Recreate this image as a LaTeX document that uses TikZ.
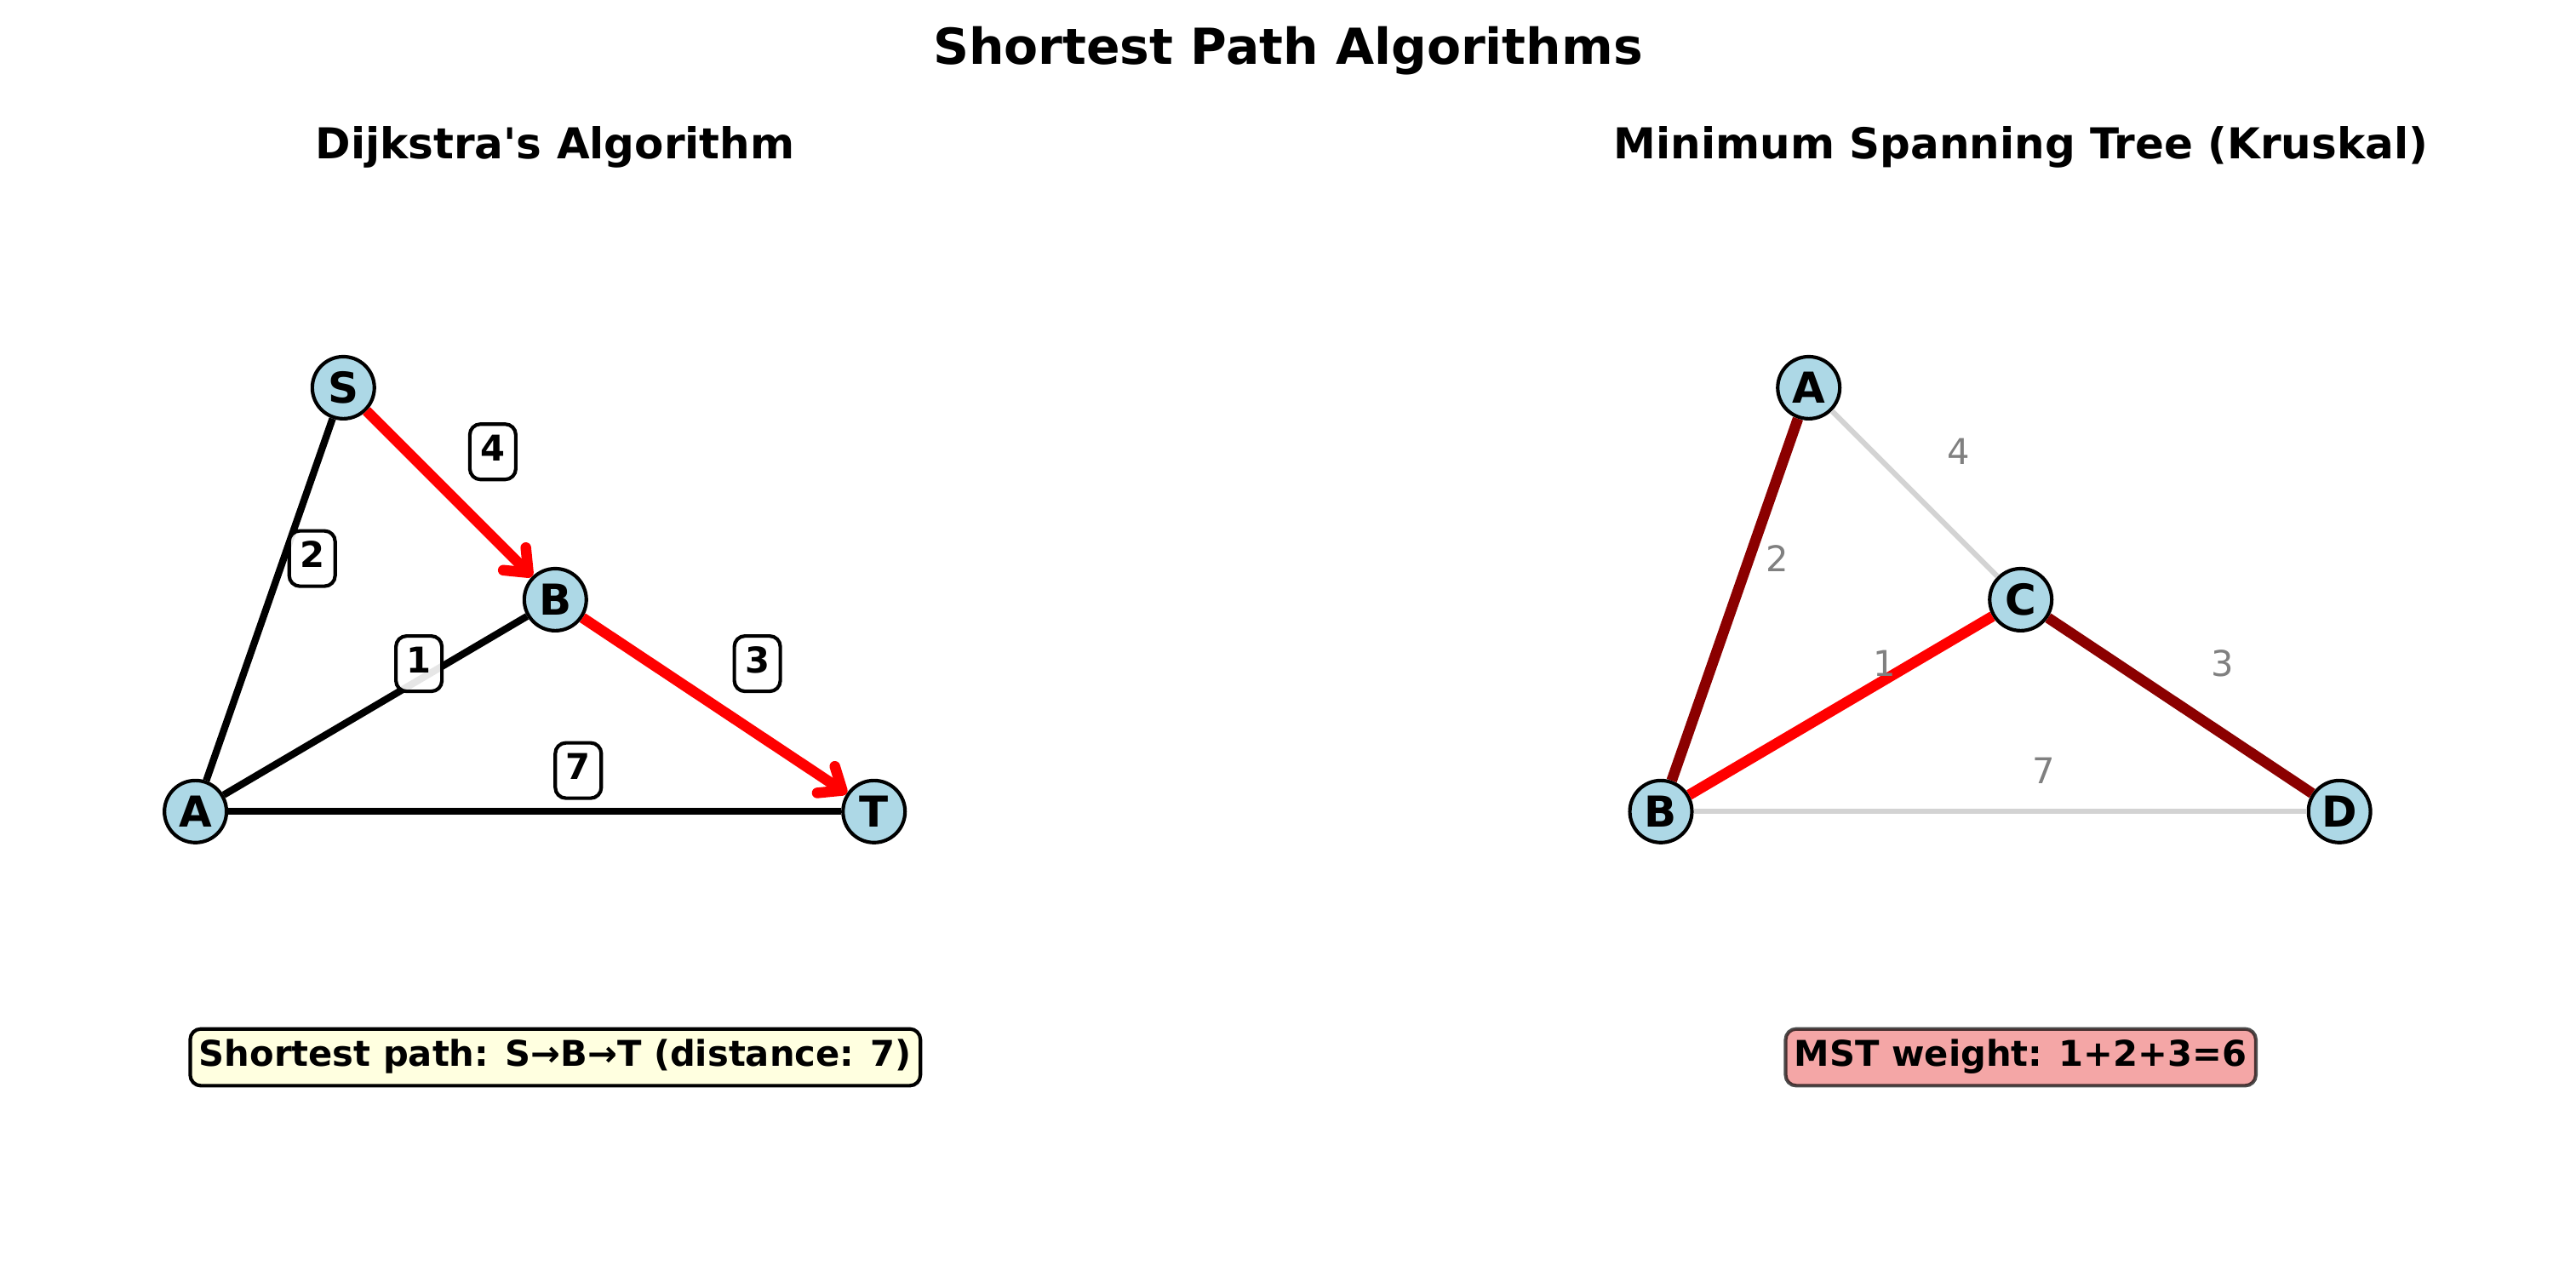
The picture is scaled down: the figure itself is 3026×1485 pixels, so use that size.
\documentclass[tikz,border=0pt]{standalone}
\usepackage{fontspec}
\setmainfont{DejaVu Sans}
\usetikzlibrary{arrows.meta}
\definecolor{nodeblue}{HTML}{ADD8E6}
\definecolor{darkred}{HTML}{8B0000}
\definecolor{lgray}{HTML}{D3D3D3}
\definecolor{mgray}{HTML}{808080}
\definecolor{lyellow}{HTML}{FFFFE0}
\definecolor{lcoral}{HTML}{F08080}
\begin{document}
\begin{tikzpicture}[x=0.24pt,y=-0.24pt,
  vertex/.style={circle, draw=black, line width=1pt, fill=nodeblue, minimum size=17.5pt, inner sep=0pt, font=\fontsize{12}{14}\selectfont\bfseries},
  wlabel/.style={draw=black, line width=1pt, fill=white, fill opacity=0.9, text opacity=1, rounded corners=3pt, inner xsep=3pt, inner ysep=3pt, text height=7.4pt, text depth=2.2pt, font=\fontsize{10}{12}\selectfont\bfseries},
  glabel/.style={text=mgray, inner sep=0pt, font=\fontsize{10}{12}\selectfont},
  plainedge/.style={line width=2pt, black},
  hiedge/.style={line width=3pt, red, -{Straight Barb[length=5.5pt,width=9pt,round]}},
  mstedge/.style={line width=3pt, darkred},
  redmst/.style={line width=3pt, red},
  offedge/.style={line width=1.5pt, lgray},
  titletext/.style={anchor=base, inner sep=0pt, font=\fontsize{14}{16}\selectfont\bfseries},
  subtext/.style={anchor=base, inner sep=0pt, font=\fontsize{12}{14}\selectfont\bfseries},
  infobox/.style={rounded corners=3pt, line width=1pt, inner xsep=2.5pt, inner ysep=3pt, text height=7.6pt, text depth=2.4pt, font=\fontsize{10}{12}\selectfont\bfseries}
]
\useasboundingbox (0,0) rectangle (3026,1485);

% titles
\node[titletext] (title) at (1513,75) {Shortest Path Algorithms};
\node[subtext] (subL) at (652,186) {Dijkstra\textquotesingle s Algorithm};
\node[subtext] (subR) at (2374,186) {Minimum Spanning Tree (Kruskal)};

% ---------- left: Dijkstra ----------
\node[vertex] (S) at (403.3,455.4) {S};
\node[vertex] (B) at (652.3,704.4) {B};
\node[vertex] (A) at (229.6,953.3) {A};
\node[vertex] (T) at (1026.7,953.3) {T};

\draw[plainedge] (A) -- (S);
\draw[plainedge] (A) -- (B);
\draw[plainedge] (A) -- (T);
\draw[hiedge] (S) -- (B);
\draw[hiedge] (B) -- (T);

\node[wlabel] (wSB) at (578.9,530.7) {4};
\node[wlabel] (wAS) at (366.7,656.1) {2};
\node[wlabel] (wAB) at (492.1,779.6) {1};
\node[wlabel] (wBT) at (889.6,779.6) {3};
\node[wlabel] (wAT) at (679.3,905.1) {7};

\node[infobox, draw=black, fill=lyellow] (infoL) at (652.3,1242) {Shortest path: S→B→T (distance: 7)};

% ---------- right: Kruskal ----------
\node[vertex] (A2) at (2124.7,455.4) {A};
\node[vertex] (C2) at (2373.7,704.4) {C};
\node[vertex] (B2) at (1951.0,953.3) {B};
\node[vertex] (D2) at (2748.1,953.3) {D};

\draw[offedge] (A2) -- (C2);
\draw[offedge] (B2) -- (D2);
\draw[mstedge] (A2) -- (B2);
\draw[mstedge] (C2) -- (D2);
\draw[redmst] (B2) -- (C2);

\node[glabel] (vAC) at (2300.3,530.7) {4};
\node[glabel] (vAB) at (2088.1,656.1) {2};
\node[glabel] (vBC) at (2213.5,779.6) {1};
\node[glabel] (vCD) at (2611.0,779.6) {3};
\node[glabel] (vBD) at (2400.7,905.1) {7};

\node[infobox, draw=black, draw opacity=0.7, fill=lcoral, fill opacity=0.7, text opacity=1] (infoR) at (2373.7,1242) {MST weight: 1+2+3=6};
\end{tikzpicture}
\end{document}
